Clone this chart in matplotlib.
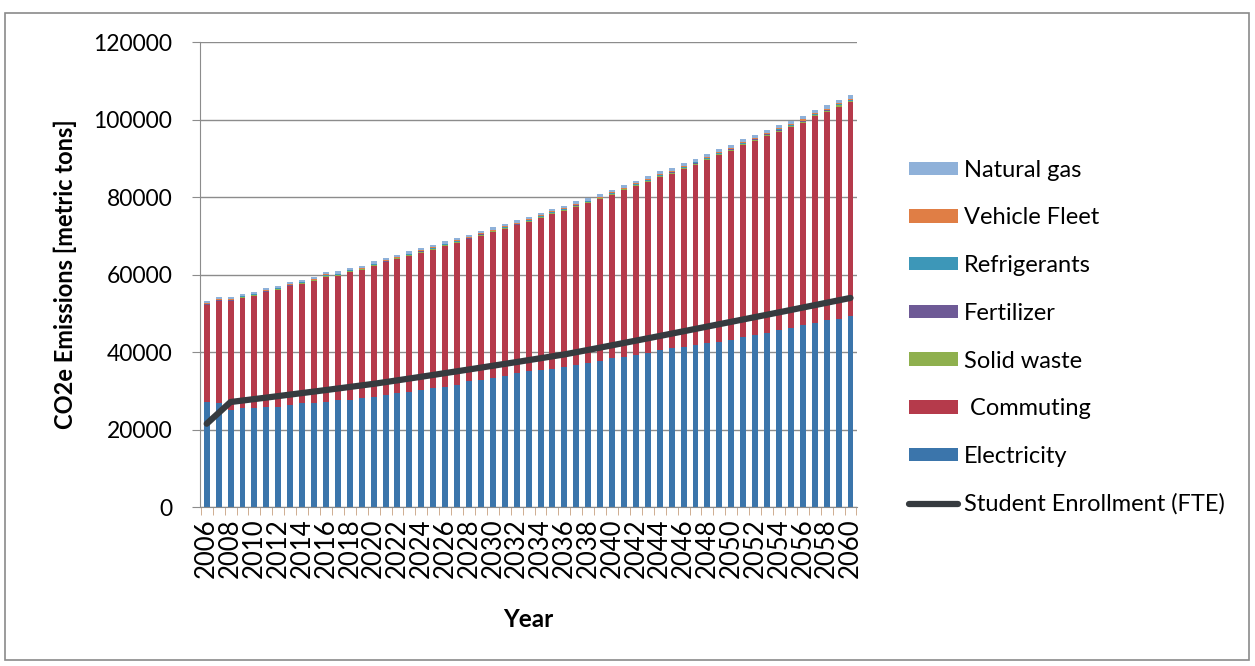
import matplotlib.pyplot as plt
import numpy as np
from matplotlib.patches import Rectangle

# emisiones proyectadas por fuente, 2006-2060 (toneladas metricas CO2e)
years = list(range(2006, 2061))

electricity = [27200, 26800, 25100, 25500, 25500, 25900, 25900, 26400, 26800, 26800,
               27200, 27600, 27700, 28100, 28500, 28900, 29400, 29800, 30200, 30700,
               31100, 31500, 32400, 32800, 33300, 33900, 34500, 35000, 35300, 35700,
               36200, 36700, 37100, 37600, 38400, 38800, 39300, 39700, 40400, 41000,
               41400, 41900, 42300, 42700, 43200, 43900, 44400, 44900, 45700, 46200,
               47000, 47600, 48300, 48500, 49200]

commuting = [24900, 26330, 28020, 28570, 29070, 29510, 30200, 30540, 30820, 31510,
             32270, 32120, 32970, 33070, 33760, 34230, 34570, 35000, 35470, 35730,
             36240, 36720, 36640, 37270, 37600, 37870, 38180, 38550, 39260, 39890,
             40220, 40820, 41280, 41790, 42090, 42900, 43490, 44180, 44750, 45020,
             45780, 46490, 47280, 48170, 48750, 49510, 50100, 50890, 51170, 51870,
             52170, 53280, 53670, 54850, 55320]

solid_waste = [160, 160, 165, 165, 170, 170, 175, 175, 180, 180,
               185, 185, 190, 190, 195, 195, 200, 200, 205, 205,
               210, 210, 215, 215, 220, 220, 225, 225, 230, 230,
               235, 235, 240, 240, 245, 245, 250, 250, 255, 255,
               260, 260, 265, 265, 270, 270, 275, 275, 280, 280,
               285, 285, 290, 290, 295]

fertilizer = [60, 60, 60, 60, 62, 62, 62, 64, 64, 64,
              66, 66, 66, 68, 68, 68, 70, 70, 70, 72,
              72, 72, 74, 74, 74, 76, 76, 76, 78, 78,
              78, 80, 80, 80, 82, 82, 82, 84, 84, 84,
              86, 86, 86, 88, 88, 88, 90, 90, 90, 92,
              92, 92, 94, 94, 94]

refrigerants = [100, 100, 100, 102, 104, 106, 108, 110, 112, 114,
                116, 118, 120, 122, 124, 126, 128, 130, 132, 134,
                136, 138, 140, 142, 144, 146, 148, 150, 152, 154,
                156, 158, 160, 162, 164, 166, 168, 170, 172, 174,
                176, 178, 180, 182, 184, 186, 188, 190, 192, 194,
                196, 198, 200, 202, 204]

vehicle_fleet = [150, 150, 150, 155, 155, 160, 160, 160, 165, 165,
                 170, 170, 175, 175, 180, 180, 185, 185, 190, 190,
                 195, 195, 200, 200, 205, 205, 210, 210, 215, 215,
                 220, 220, 225, 225, 230, 230, 235, 235, 240, 240,
                 245, 245, 250, 250, 255, 255, 260, 260, 265, 265,
                 270, 270, 275, 275, 280]

natural_gas = [480, 480, 490, 490, 500, 500, 510, 510, 520, 520,
               530, 540, 540, 550, 560, 560, 570, 580, 580, 590,
               600, 600, 610, 620, 630, 630, 640, 650, 660, 660,
               670, 680, 690, 700, 700, 710, 720, 730, 740, 750,
               760, 760, 770, 780, 790, 800, 810, 820, 830, 840,
               850, 860, 870, 880, 890]

enrollment = [21500, 24300, 27100, 27480, 27860, 28240, 28630, 29020, 29410, 29800,
              30190, 30590, 30990, 31390, 31790, 32240, 32700, 33160, 33620, 34090,
              34560, 35030, 35500, 35980, 36460, 36940, 37420, 37910, 38400, 38890,
              39380, 39960, 40550, 41140, 41740, 42340, 42940, 43540, 44140, 44750,
              45360, 45970, 46580, 47190, 47800, 48410, 49020, 49630, 50240, 50860,
              51480, 52100, 52720, 53340, 53960]

plt.rcParams['font.family'] = ['Lato', 'DejaVu Sans']

fig = plt.figure(figsize=(12.55, 6.66), dpi=100)
fig.patches.append(Rectangle((5 / 1255, 6 / 666), 1244 / 1255, 647 / 666,
                             transform=fig.transFigure, fill=False,
                             edgecolor='#8a8a8a', linewidth=1.2))

ax = fig.add_axes([0.1594, 0.2387, 0.5236, 0.6982])

x = np.arange(len(years))
w = 0.5

series = [
    ('Electricity', electricity, '#3b75ab'),
    (' Commuting', commuting, '#b53a4b'),
    ('Solid waste', solid_waste, '#8fb04e'),
    ('Fertilizer', fertilizer, '#6e5a96'),
    ('Refrigerants', refrigerants, '#3d97b8'),
    ('Vehicle Fleet', vehicle_fleet, '#e07e45'),
    ('Natural gas', natural_gas, '#8fb1d9'),
]

bottom = np.zeros(len(years))
handles = {}
for name, vals, col in series:
    b = ax.bar(x, vals, w, bottom=bottom, color=col, label=name, zorder=2)
    handles[name] = b
    bottom += np.array(vals)

line, = ax.plot(x, enrollment, color='#363b3f', linewidth=4.5,
                solid_capstyle='round', label='Student Enrollment (FTE)', zorder=3)

ax.set_xlim(-0.56, len(years) - 0.44)
ax.set_ylim(0, 120000)
ax.set_yticks(np.arange(0, 120001, 20000))
ax.yaxis.grid(True, color='#8c8c8c', linewidth=1)
ax.set_axisbelow(True)
ax.tick_params(axis='y', labelsize=16.5, length=6, color='#8c8c8c', pad=14)

# etiquetas cada dos años, marcas entre categorias
ax.set_xticks(x[::2])
ax.set_xticklabels([str(y) for y in years[::2]], rotation=90, fontsize=18.5)
ax.set_xticks(np.arange(-0.5, len(years), 1), minor=True)
ax.tick_params(axis='x', which='major', length=0, pad=8)
ax.tick_params(axis='x', which='minor', length=6, color='#c8a080')

for s in ['top', 'right']:
    ax.spines[s].set_visible(False)
ax.spines['left'].set_color('#8c8c8c')
ax.spines['bottom'].set_color('#8c8c8c')

ax.set_ylabel('CO2e Emissions [metric tons]', fontsize=17, fontweight='bold', labelpad=12)
ax.set_xlabel('Year', fontsize=17.5, fontweight='bold', labelpad=22)

order = ['Natural gas', 'Vehicle Fleet', 'Refrigerants', 'Fertilizer',
         'Solid waste', ' Commuting', 'Electricity']
hs = [handles[n] for n in order] + [line]
ls = order + ['Student Enrollment (FTE)']
fig.legend(hs, ls, loc='upper left', bbox_to_anchor=(0.707, 0.792),
           frameon=False, fontsize=17, labelspacing=1.13,
           handlelength=2.1, handleheight=0.5, handletextpad=0.25)

fig.savefig('out.png', dpi=100)
